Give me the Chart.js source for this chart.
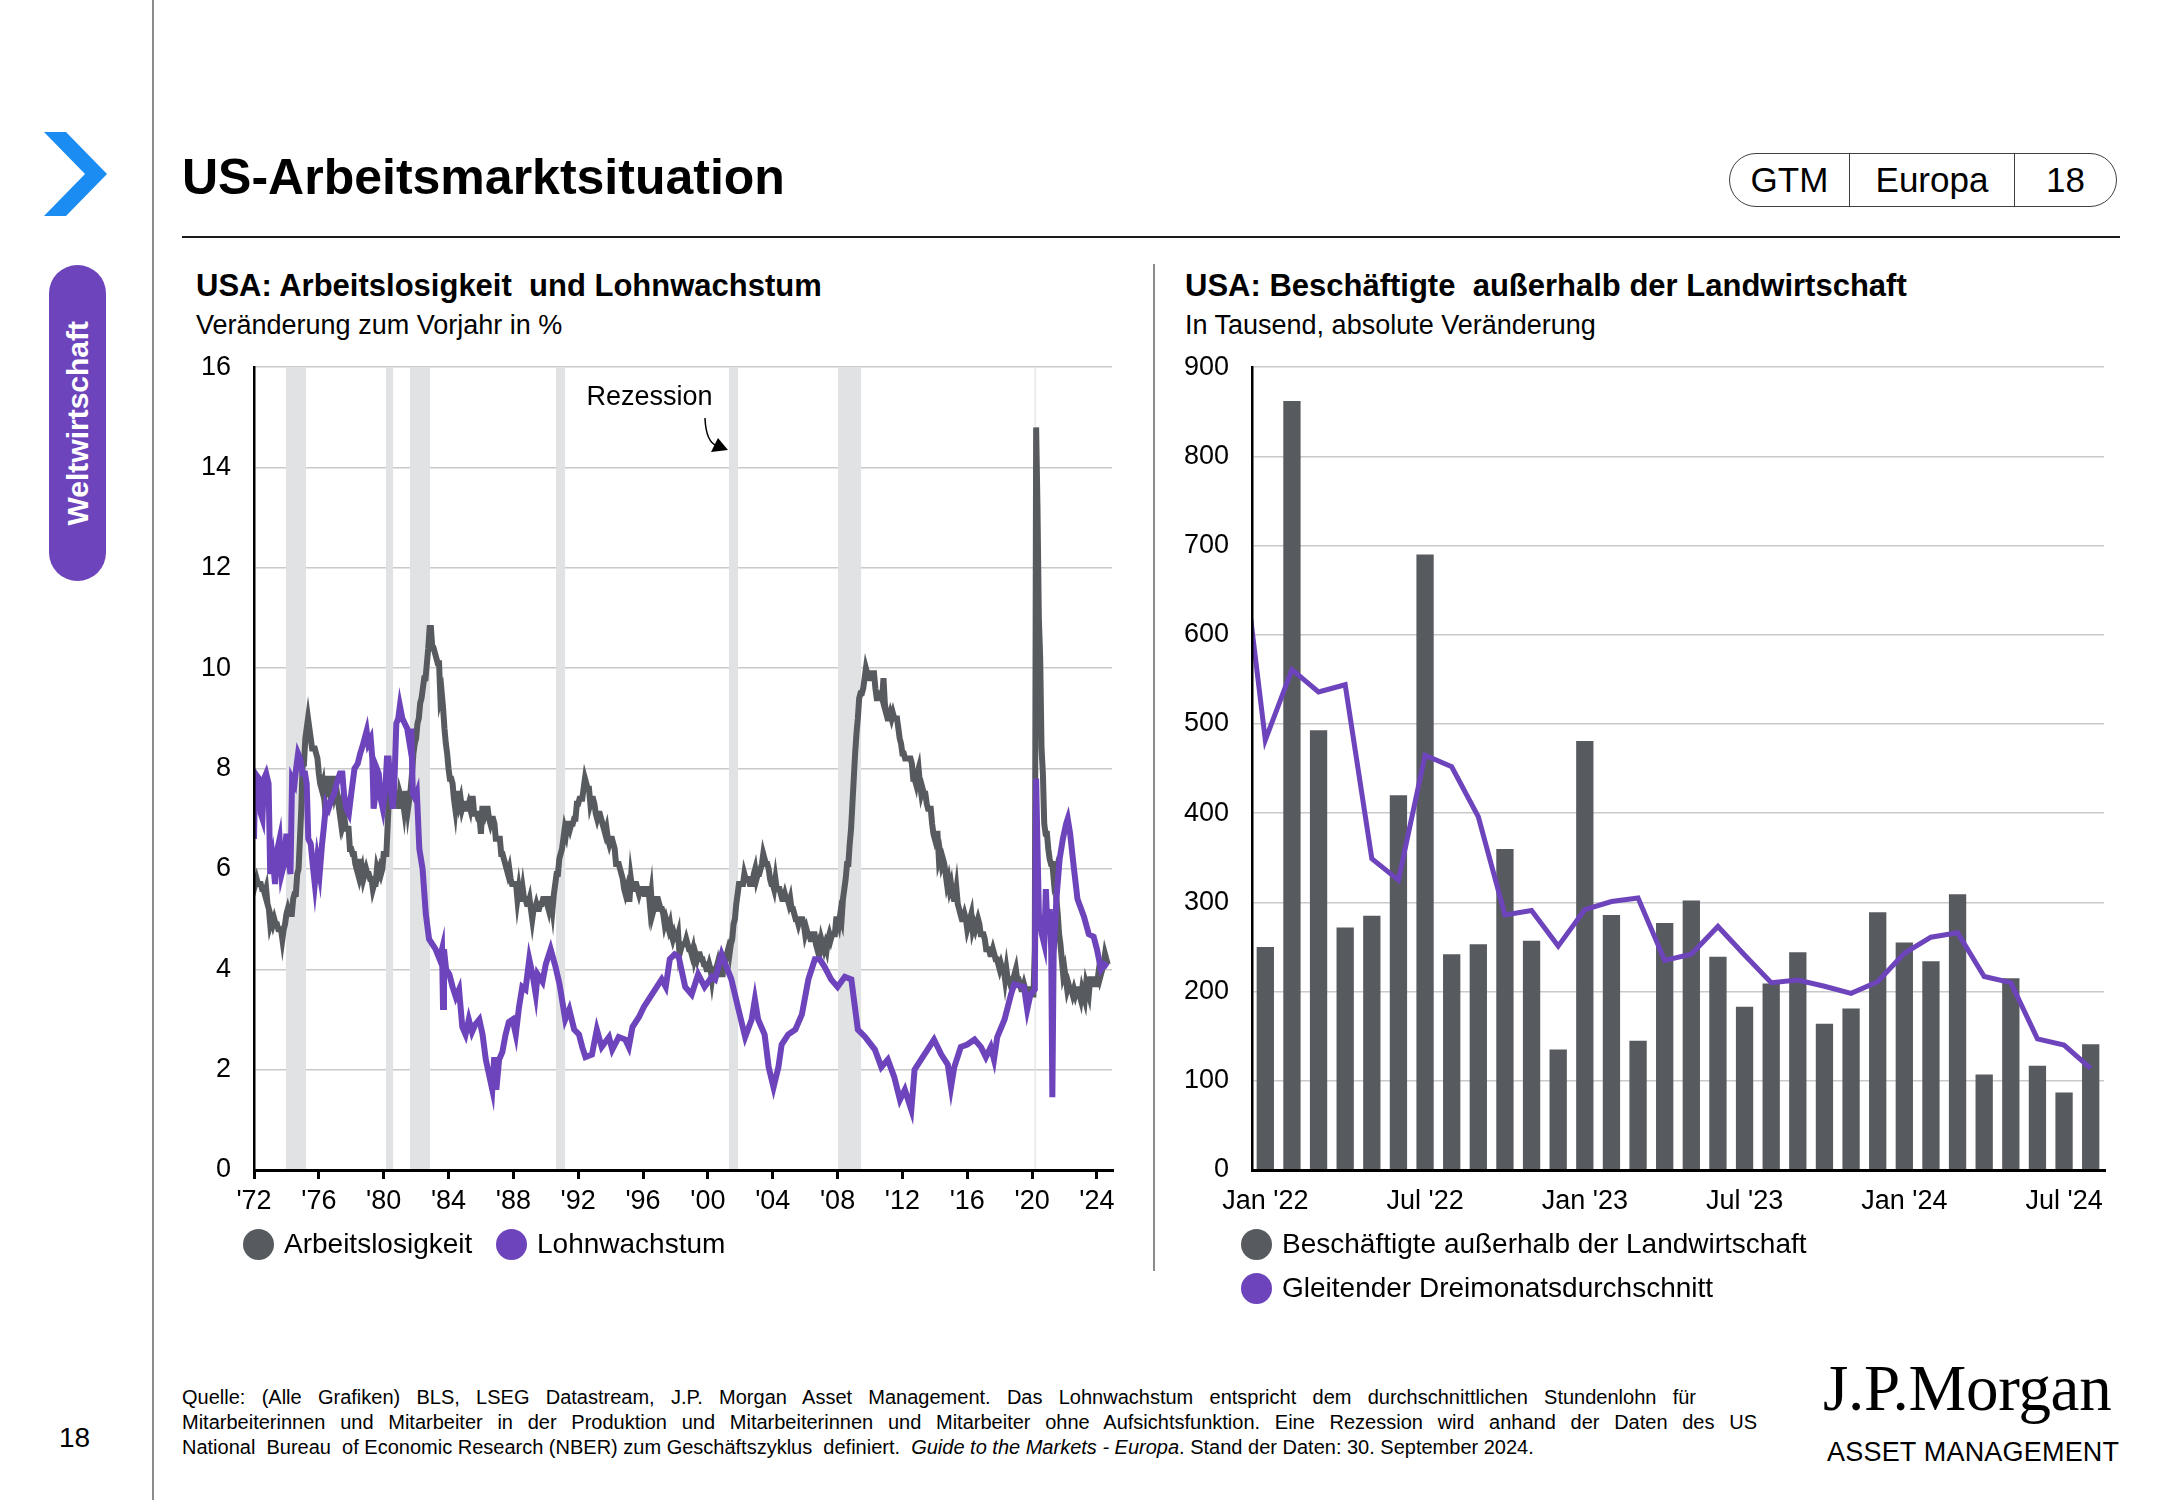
<!DOCTYPE html>
<html lang="de">
<head>
<meta charset="utf-8">
<title>US-Arbeitsmarktsituation</title>
<script src="https://cdn.jsdelivr.net/npm/chart.js@4.4.1/dist/chart.umd.min.js"></script>
<style>
  html, body { margin: 0; padding: 0; background: #fff; }
  body { width: 2167px; height: 1500px; position: relative; overflow: hidden;
         font-family: "Liberation Sans", Arial, sans-serif; color: #000; }
  .abs { position: absolute; }
  .title { left: 182px; top: 152px; font-size: 50px; font-weight: bold; line-height: 1; white-space: nowrap; }
  .badge { left: 1729px; top: 153px; width: 388px; height: 54px; border: 1.5px solid #404040;
           border-radius: 28px; box-sizing: border-box; display: flex; font-size: 35px; }
  .badge div { display: flex; align-items: center; justify-content: center; }
  .badge div + div { border-left: 1.5px solid #404040; }
  .rule { left: 182px; top: 236px; width: 1938px; height: 1.5px; background: #1a1a1a; }
  .ctitle { top: 270px; font-size: 31px; font-weight: bold; line-height: 1; white-space: pre; }
  .csub { top: 312px; font-size: 27px; line-height: 1; white-space: nowrap; }
  .legend-item { display: flex; align-items: center; font-size: 28px; line-height: 1; white-space: nowrap; height: 32px; }
  .legend-item span.dot { width: 31px; height: 31px; border-radius: 50%; margin-right: 10px; flex: none; }
  .foot { left: 182px; font-size: 20px; line-height: 25px; white-space: pre; }
  .just { text-align: justify; text-align-last: justify; white-space: normal; }
</style>
</head>
<body>

<!-- sidebar -->
<div class="abs" style="left:152px; top:0; width:1.5px; height:1500px; background:#8c8c8c;"></div>
<svg class="abs" style="left:0; top:0;" width="140" height="240">
  <polygon points="44,132 66,132 107,174 66,216 44,216 85,174" fill="#1a8cf2"/>
</svg>
<div class="abs" style="left:49px; top:265px; width:57px; height:316px; border-radius:29px; background:#6e44bc;
     display:flex; align-items:center; justify-content:center;">
  <span style="writing-mode:vertical-rl; transform:rotate(180deg); color:#fff; font-weight:bold; font-size:30px; line-height:1;">Weltwirtschaft</span>
</div>
<div class="abs" style="left:59px; top:1424px; font-size:28px; line-height:1;">18</div>

<!-- header -->
<div class="abs title">US-Arbeitsmarktsituation</div>
<div class="abs badge">
  <div style="width:119px;">GTM</div>
  <div style="width:164px;">Europa</div>
  <div style="flex:1;">18</div>
</div>
<div class="abs rule"></div>

<!-- chart titles -->
<div class="abs ctitle" style="left:196px;">USA: Arbeitslosigkeit  und Lohnwachstum</div>
<div class="abs csub" style="left:196px;">Veränderung zum Vorjahr in %</div>
<div class="abs ctitle" style="left:1185px;">USA: Beschäftigte  außerhalb der Landwirtschaft</div>
<div class="abs csub" style="left:1185px;">In Tausend, absolute Veränderung</div>

<div class="abs" style="left:1153px; top:264px; width:1.5px; height:1007px; background:#8c8c8c;"></div>

<canvas id="chartLeft" class="abs" style="left:170px; top:328px;" width="960" height="912"></canvas>
<canvas id="chartRight" class="abs" style="left:1160px; top:328px;" width="965" height="912"></canvas>

<!-- legends -->
<div class="abs legend-item" style="left:243px; top:1228px;"><span class="dot" style="background:#575a5e;"></span>Arbeitslosigkeit</div>
<div class="abs legend-item" style="left:496px; top:1228px;"><span class="dot" style="background:#6e44bc;"></span>Lohnwachstum</div>
<div class="abs legend-item" style="left:1241px; top:1228px;"><span class="dot" style="background:#575a5e;"></span>Beschäftigte außerhalb der Landwirtschaft</div>
<div class="abs legend-item" style="left:1241px; top:1272px;"><span class="dot" style="background:#6e44bc;"></span>Gleitender Dreimonatsdurchschnitt</div>

<!-- footer -->
<div class="abs foot just" style="top:1385px; width:1514px;">Quelle: (Alle Grafiken) BLS, LSEG Datastream, J.P. Morgan Asset Management. Das Lohnwachstum entspricht dem durchschnittlichen Stundenlohn für</div>
<div class="abs foot just" style="top:1410px; width:1575px;">Mitarbeiterinnen und Mitarbeiter in der Produktion und Mitarbeiterinnen und Mitarbeiter ohne Aufsichtsfunktion. Eine Rezession wird anhand der Daten des US</div>
<div class="abs foot" style="top:1435px;">National  Bureau  of Economic Research (NBER) zum Geschäftszyklus  definiert.  <i>Guide to the Markets - Europa</i>. Stand der Daten: 30. September 2024.</div>

<div class="abs" style="left:1823px; top:1356px; font-family:'Liberation Serif','Times New Roman',serif; font-size:65px; line-height:1; letter-spacing:-0.3px; white-space:nowrap;">J.P.Morgan</div>
<div class="abs" style="left:1827px; top:1439px; font-size:27px; line-height:1; white-space:nowrap; letter-spacing:0.2px;">ASSET MANAGEMENT</div>

<script>
// ---- left chart data ----
const unemploymentStart = 1972; // monthly series starting January 1972
const unemploymentRate = [
  5.9, 5.7, 5.8, 5.7, 5.7, 5.7, 5.6, 5.6, 5.5, 5.6, 5.3, 5.2,
  4.9, 5.0, 4.9, 5.0, 4.9, 4.9, 4.8, 4.8, 4.8, 4.6, 4.8, 4.9,
  5.1, 5.2, 5.1, 5.1, 5.1, 5.4, 5.5, 5.5, 5.9, 6.0, 6.6, 7.2,
  8.1, 8.1, 8.6, 8.8, 9.0, 8.8, 8.6, 8.4, 8.4, 8.4, 8.3, 8.2,
  7.9, 7.7, 7.6, 7.7, 7.4, 7.6, 7.8, 7.8, 7.6, 7.7, 7.8, 7.8,
  7.5, 7.6, 7.4, 7.2, 7.0, 7.2, 6.9, 7.0, 6.8, 6.8, 6.8, 6.4,
  6.4, 6.3, 6.3, 6.1, 6.0, 5.9, 6.2, 5.9, 6.0, 5.8, 5.9, 6.0,
  5.9, 5.9, 5.8, 5.8, 5.6, 5.7, 5.7, 6.0, 5.9, 6.0, 5.9, 6.0,
  6.3, 6.3, 6.3, 6.9, 7.5, 7.6, 7.8, 7.7, 7.5, 7.5, 7.5, 7.2,
  7.5, 7.4, 7.4, 7.2, 7.5, 7.5, 7.2, 7.4, 7.6, 7.9, 8.3, 8.5,
  8.6, 8.9, 9.0, 9.3, 9.4, 9.6, 9.8, 9.8, 10.1, 10.4, 10.8, 10.8,
  10.4, 10.4, 10.3, 10.2, 10.1, 10.1, 9.4, 9.5, 9.2, 8.8, 8.5, 8.3,
  8.0, 7.8, 7.8, 7.7, 7.4, 7.2, 7.5, 7.5, 7.3, 7.4, 7.2, 7.3,
  7.3, 7.2, 7.2, 7.3, 7.2, 7.4, 7.4, 7.1, 7.1, 7.1, 7.0, 7.0,
  6.7, 7.2, 7.2, 7.1, 7.2, 7.2, 7.0, 6.9, 7.0, 7.0, 6.9, 6.6,
  6.6, 6.6, 6.6, 6.3, 6.3, 6.2, 6.1, 6.0, 5.9, 6.0, 5.8, 5.7,
  5.7, 5.7, 5.7, 5.4, 5.6, 5.4, 5.4, 5.6, 5.4, 5.4, 5.3, 5.3,
  5.4, 5.2, 5.0, 5.2, 5.2, 5.3, 5.2, 5.2, 5.3, 5.3, 5.4, 5.4,
  5.4, 5.3, 5.2, 5.4, 5.4, 5.2, 5.5, 5.7, 5.9, 5.9, 6.2, 6.3,
  6.4, 6.6, 6.8, 6.7, 6.9, 6.9, 6.8, 6.9, 6.9, 7.0, 7.0, 7.3,
  7.3, 7.4, 7.4, 7.4, 7.6, 7.8, 7.7, 7.6, 7.6, 7.3, 7.4, 7.4,
  7.3, 7.1, 7.0, 7.1, 7.1, 7.0, 6.9, 6.8, 6.7, 6.8, 6.6, 6.5,
  6.6, 6.6, 6.5, 6.4, 6.1, 6.1, 6.1, 6.0, 5.9, 5.8, 5.6, 5.5,
  5.6, 5.4, 5.4, 5.8, 5.6, 5.6, 5.7, 5.7, 5.6, 5.5, 5.6, 5.6,
  5.6, 5.5, 5.5, 5.6, 5.6, 5.3, 5.5, 5.1, 5.2, 5.2, 5.4, 5.4,
  5.3, 5.2, 5.2, 5.1, 4.9, 5.0, 4.9, 4.8, 4.9, 4.7, 4.6, 4.7,
  4.6, 4.6, 4.7, 4.3, 4.4, 4.5, 4.5, 4.5, 4.6, 4.5, 4.4, 4.4,
  4.3, 4.4, 4.2, 4.3, 4.2, 4.3, 4.3, 4.2, 4.2, 4.1, 4.1, 4.0,
  4.0, 4.1, 4.0, 3.8, 4.0, 4.0, 4.0, 4.1, 3.9, 3.9, 3.9, 3.9,
  4.2, 4.2, 4.3, 4.4, 4.3, 4.5, 4.6, 4.9, 5.0, 5.3, 5.5, 5.7,
  5.7, 5.7, 5.7, 5.9, 5.8, 5.8, 5.8, 5.7, 5.7, 5.7, 5.9, 6.0,
  5.8, 5.9, 5.9, 6.0, 6.1, 6.3, 6.2, 6.1, 6.1, 6.0, 5.8, 5.7,
  5.7, 5.6, 5.8, 5.6, 5.6, 5.6, 5.5, 5.4, 5.4, 5.5, 5.4, 5.4,
  5.3, 5.4, 5.2, 5.2, 5.1, 5.0, 5.0, 4.9, 5.0, 5.0, 5.0, 4.9,
  4.7, 4.8, 4.7, 4.7, 4.6, 4.6, 4.7, 4.7, 4.5, 4.4, 4.5, 4.4,
  4.6, 4.5, 4.4, 4.5, 4.4, 4.6, 4.7, 4.6, 4.7, 4.7, 4.7, 5.0,
  5.0, 4.9, 5.1, 5.0, 5.4, 5.6, 5.8, 6.1, 6.1, 6.5, 6.8, 7.3,
  7.8, 8.3, 8.7, 9.0, 9.4, 9.5, 9.5, 9.6, 9.8, 10.0, 9.9, 9.9,
  9.8, 9.8, 9.9, 9.9, 9.6, 9.4, 9.4, 9.5, 9.5, 9.4, 9.8, 9.3,
  9.1, 9.0, 9.0, 9.1, 9.0, 9.1, 9.0, 9.0, 9.0, 8.8, 8.6, 8.5,
  8.3, 8.3, 8.2, 8.2, 8.2, 8.2, 8.2, 8.1, 7.8, 7.8, 7.7, 7.9,
  8.0, 7.7, 7.5, 7.6, 7.5, 7.5, 7.3, 7.2, 7.2, 7.2, 6.9, 6.7,
  6.6, 6.7, 6.7, 6.2, 6.3, 6.1, 6.2, 6.1, 5.9, 5.7, 5.8, 5.6,
  5.7, 5.5, 5.4, 5.4, 5.6, 5.3, 5.2, 5.1, 5.0, 5.0, 5.1, 5.0,
  4.8, 4.9, 5.0, 5.1, 4.8, 4.9, 4.8, 4.9, 5.0, 4.9, 4.7, 4.7,
  4.7, 4.6, 4.4, 4.4, 4.4, 4.3, 4.3, 4.4, 4.3, 4.2, 4.2, 4.1,
  4.0, 4.1, 4.0, 4.0, 3.8, 4.0, 3.8, 3.8, 3.7, 3.8, 3.8, 3.9,
  4.0, 3.8, 3.8, 3.7, 3.6, 3.6, 3.7, 3.6, 3.5, 3.6, 3.6, 3.6,
  3.5, 3.5, 4.4, 14.8, 13.2, 11.0, 10.2, 8.4, 7.9, 6.9, 6.7, 6.7,
  6.4, 6.2, 6.1, 6.1, 5.8, 5.9, 5.4, 5.1, 4.7, 4.5, 4.2, 3.9,
  4.0, 3.8, 3.6, 3.7, 3.6, 3.6, 3.5, 3.6, 3.5, 3.6, 3.6, 3.5,
  3.4, 3.6, 3.5, 3.4, 3.7, 3.6, 3.5, 3.8, 3.8, 3.8, 3.7, 3.7,
  3.7, 3.9, 3.8, 3.9, 4.0, 4.1, 4.3, 4.2, 4.1
];

// wage growth as [year, % y/y]
const wageGrowth = [
  [1972.00, 6.6], [1972.08, 7.9], [1972.30, 7.8], [1972.42, 7.1], [1972.52, 7.0], [1972.62, 7.8],
  [1972.75, 7.9], [1972.90, 7.7], [1973.00, 5.9], [1973.15, 6.2], [1973.30, 5.7], [1973.45, 6.4],
  [1973.58, 6.6], [1973.70, 5.9], [1973.85, 6.1], [1974.00, 6.7], [1974.12, 6.2], [1974.25, 5.9],
  [1974.35, 7.8], [1974.50, 7.7], [1974.60, 8.0], [1974.72, 8.3], [1974.85, 8.2], [1975.00, 7.9],
  [1975.15, 7.9], [1975.25, 7.7], [1975.35, 6.6], [1975.50, 6.5], [1975.65, 6.0], [1975.75, 5.7],
  [1975.90, 6.2], [1976.05, 5.9], [1976.20, 6.5], [1976.30, 6.8], [1976.45, 7.3], [1976.60, 7.2],
  [1976.80, 7.4], [1976.95, 7.5], [1977.10, 7.7], [1977.30, 7.9], [1977.45, 7.9], [1977.55, 7.5],
  [1977.70, 7.2], [1977.85, 7.1], [1978.00, 7.5], [1978.20, 8.0], [1978.40, 8.1], [1978.55, 8.3],
  [1978.70, 8.45], [1978.95, 8.75], [1979.05, 8.5], [1979.20, 8.6], [1979.30, 8.2], [1979.38, 7.2],
  [1979.50, 7.5], [1979.58, 8.0], [1979.70, 7.9], [1979.82, 7.4], [1979.95, 7.2], [1980.10, 7.6],
  [1980.20, 8.2], [1980.30, 8.2], [1980.42, 7.7], [1980.55, 7.2], [1980.65, 7.6], [1980.78, 8.9],
  [1980.90, 9.0], [1981.00, 9.25], [1981.15, 9.0], [1981.30, 8.9], [1981.45, 8.8], [1981.60, 8.5],
  [1981.70, 8.8], [1981.80, 7.5], [1981.95, 7.4], [1982.05, 7.5], [1982.20, 6.4], [1982.40, 6.0],
  [1982.60, 5.1], [1982.80, 4.6], [1983.00, 4.5], [1983.20, 4.4], [1983.45, 4.2], [1983.60, 4.4],
  [1983.66, 3.25], [1983.72, 4.4], [1983.85, 4.0], [1984.05, 3.9], [1984.25, 3.65], [1984.45, 3.45],
  [1984.65, 3.6], [1984.85, 2.85], [1985.05, 2.7], [1985.25, 3.0], [1985.45, 2.75], [1985.65, 2.9],
  [1985.90, 3.0], [1986.10, 2.7], [1986.30, 2.2], [1986.50, 1.9], [1986.70, 1.6], [1986.82, 2.25],
  [1986.95, 1.6], [1987.12, 2.2], [1987.32, 2.35], [1987.52, 2.7], [1987.72, 2.95], [1987.95, 3.0],
  [1988.15, 2.7], [1988.35, 3.25], [1988.55, 3.65], [1988.75, 3.6], [1988.98, 4.2], [1989.18, 3.9],
  [1989.38, 3.5], [1989.50, 3.9], [1989.80, 3.75], [1990.00, 4.1], [1990.30, 4.4], [1990.60, 4.05],
  [1990.85, 3.7], [1991.20, 3.0], [1991.45, 3.2], [1991.75, 2.8], [1992.05, 2.7], [1992.25, 2.45],
  [1992.45, 2.25], [1992.85, 2.3], [1993.15, 2.8], [1993.45, 2.45], [1993.90, 2.65], [1994.10, 2.4],
  [1994.50, 2.65], [1994.90, 2.6], [1995.12, 2.45], [1995.35, 2.85], [1995.75, 3.05], [1996.05, 3.25],
  [1996.35, 3.4], [1996.75, 3.6], [1997.15, 3.8], [1997.40, 3.65], [1997.65, 4.2], [1997.95, 4.3],
  [1998.20, 4.25], [1998.60, 3.65], [1999.00, 3.5], [1999.40, 3.9], [1999.80, 3.65], [2000.25, 3.85],
  [2000.45, 3.8], [2000.85, 4.3], [2001.15, 4.05], [2001.45, 3.8], [2001.85, 3.25], [2002.30, 2.65],
  [2002.70, 3.0], [2002.90, 3.4], [2003.10, 3.0], [2003.50, 2.7], [2003.75, 2.05], [2004.05, 1.65],
  [2004.35, 2.05], [2004.55, 2.5], [2004.95, 2.7], [2005.40, 2.8], [2005.80, 3.1], [2006.20, 3.8],
  [2006.60, 4.2], [2006.90, 4.2], [2007.20, 4.05], [2007.60, 3.8], [2008.00, 3.65], [2008.45, 3.85],
  [2008.85, 3.8], [2009.25, 2.8], [2009.70, 2.65], [2010.30, 2.4], [2010.70, 2.05], [2011.10, 2.2],
  [2011.50, 1.85], [2011.85, 1.4], [2012.15, 1.6], [2012.55, 1.2], [2012.75, 2.0], [2013.15, 2.2],
  [2013.55, 2.4], [2013.95, 2.6], [2014.40, 2.3], [2014.80, 2.1], [2015.00, 1.65], [2015.20, 2.05],
  [2015.60, 2.45], [2016.00, 2.5], [2016.45, 2.6], [2016.85, 2.45], [2017.15, 2.25], [2017.45, 2.45],
  [2017.65, 2.2], [2017.85, 2.65], [2018.30, 3.0], [2018.70, 3.5], [2018.90, 3.7], [2019.50, 3.65],
  [2019.70, 3.2], [2019.90, 3.5], [2020.17, 3.6], [2020.25, 7.8], [2020.33, 6.5], [2020.42, 5.1],
  [2020.60, 4.7], [2020.75, 4.5], [2020.85, 5.6], [2020.95, 4.8], [2021.08, 5.2], [2021.18, 4.4],
  [2021.25, 1.45], [2021.33, 4.3], [2021.50, 5.4], [2021.70, 6.2], [2021.90, 6.6], [2022.10, 6.9],
  [2022.20, 7.0], [2022.35, 6.7], [2022.55, 6.1], [2022.80, 5.4], [2023.20, 5.05], [2023.50, 4.7],
  [2023.80, 4.65], [2024.00, 4.4], [2024.25, 4.0], [2024.45, 4.1], [2024.67, 4.05]
];

const yearTicks = [1972, 1976, 1980, 1984, 1988, 1992, 1996, 2000, 2004, 2008, 2012, 2016, 2020, 2024];
const recessionStart = [1973.97, 1980.14, 1981.62, 1990.63, 2001.30, 2008.03, 2020.15];
const recessionEnd   = [1975.21, 1980.58, 1982.86, 1991.19, 2001.86, 2009.45, 2020.22];
const noteLabel = { x: 1996.4, y: 15.4, text: 'Rezession' };
const noteArrowTip = { x: 2001.24, y: 14.35 };

// ---- right chart data ----
const monthLabels = [
  "Jan '22", "Feb '22", "Mar '22", "Apr '22", "May '22", "Jun '22", "Jul '22", "Aug '22", "Sep '22", "Oct '22", "Nov '22", "Dec '22",
  "Jan '23", "Feb '23", "Mar '23", "Apr '23", "May '23", "Jun '23", "Jul '23", "Aug '23", "Sep '23", "Oct '23", "Nov '23", "Dec '23",
  "Jan '24", "Feb '24", "Mar '24", "Apr '24", "May '24", "Jun '24", "Jul '24", "Aug '24"
];
const payrolls = [250, 862, 493, 272, 285, 420, 690, 242, 253, 360, 257, 135,
                  481, 286, 145, 277, 302, 239, 183, 209, 244, 164, 181, 289,
                  255, 234, 309, 107, 215, 117, 87, 141];
// 3-month average, first value is Dec '21 (left of the axis, clipped)
const payrollAvg = [730, 482, 561, 536, 544, 349, 325, 465, 452, 396, 286, 291, 251,
                    292, 301, 305, 235, 242, 273, 241, 210, 213, 206, 198, 211,
                    243, 261, 266, 217, 210, 147, 140, 114];

const GRAY = '#575a5e';
const PURPLE = '#6e44bc';
const RECESSION = '#e1e2e4';
const GRID = '#c9c9c9';

Chart.defaults.font.family = '"Liberation Sans", Arial, sans-serif';
Chart.defaults.color = '#000';

const recessionBands = {
  id: 'recessionBands',
  beforeDatasetsDraw(chart) {
    const { ctx, chartArea, scales: { x } } = chart;
    ctx.save();
    ctx.fillStyle = RECESSION;
    recessionStart.forEach((s, i) => {
      const x0 = x.getPixelForValue(s);
      const x1 = x.getPixelForValue(recessionEnd[i]);
      ctx.fillRect(x0, chartArea.top, Math.max(x1 - x0, 1.2), chartArea.bottom - chartArea.top);
    });
    ctx.restore();
  }
};

const recessionNote = {
  id: 'recessionNote',
  afterDatasetsDraw(chart) {
    const { ctx, scales: { x, y } } = chart;
    ctx.save();
    ctx.font = '27px "Liberation Sans", Arial, sans-serif';
    ctx.fillStyle = '#000';
    ctx.textAlign = 'center';
    ctx.textBaseline = 'middle';
    ctx.fillText(noteLabel.text, x.getPixelForValue(noteLabel.x), y.getPixelForValue(noteLabel.y));

    const tx = x.getPixelForValue(noteArrowTip.x);
    const ty = y.getPixelForValue(noteArrowTip.y);
    ctx.strokeStyle = '#000';
    ctx.lineWidth = 1.5;
    ctx.beginPath();
    ctx.moveTo(tx - 23, ty - 32);
    ctx.quadraticCurveTo(tx - 22, ty - 8, tx - 11, ty - 4);
    ctx.stroke();
    ctx.beginPath();
    ctx.moveTo(tx, ty);
    ctx.lineTo(tx - 17, ty + 2);
    ctx.lineTo(tx - 10, ty - 12);
    ctx.closePath();
    ctx.fill();
    ctx.restore();
  }
};

new Chart(document.getElementById('chartLeft'), {
  type: 'line',
  data: {
    datasets: [
      {
        label: 'Arbeitslosigkeit',
        data: unemploymentRate.map((v, i) => ({ x: unemploymentStart + i / 12, y: v })),
        borderColor: GRAY,
        borderWidth: 6,
        pointRadius: 0,
        tension: 0,
        order: 1
      },
      {
        label: 'Lohnwachstum',
        data: wageGrowth.map(([x, y]) => ({ x, y })),
        borderColor: PURPLE,
        borderWidth: 6,
        pointRadius: 0,
        tension: 0,
        order: 0
      }
    ]
  },
  options: {
    responsive: false,
    animation: false,
    // top space comes from the y tick label + padding (about 39px)
    layout: { padding: { top: 0, right: 18, left: 0, bottom: 0 } },
    plugins: { legend: { display: false }, tooltip: { enabled: false } },
    scales: {
      x: {
        type: 'linear',
        bounds: 'data',
        min: 1972,
        max: 2024.93,
        afterBuildTicks: s => { s.ticks = yearTicks.map(v => ({ value: v })); },
        afterFit: s => { s.height = 70; },
        ticks: {
          autoSkip: false,
          maxRotation: 0,
          padding: 6,
          font: { size: 27 },
          callback: v => "'" + String(v).slice(2)
        },
        grid: { drawOnChartArea: false, drawTicks: true, tickLength: 9, color: '#000', lineWidth: 3 },
        border: { color: '#000', width: 3, z: 1 }
      },
      y: {
        min: 0,
        max: 16,
        afterFit: s => { s.width = 84; },
        ticks: { stepSize: 2, padding: 23, font: { size: 27 } },
        grid: { color: GRID, lineWidth: 1.5, drawTicks: false },
        border: { color: '#000', width: 2.5, z: 1 }
      }
    }
  },
  plugins: [recessionBands, recessionNote]
});

const showMonth = i => monthLabels[i].startsWith('Jan') || monthLabels[i].startsWith('Jul');

new Chart(document.getElementById('chartRight'), {
  type: 'bar',
  data: {
    labels: monthLabels,
    datasets: [
      {
        type: 'line',
        label: 'Gleitender Dreimonatsdurchschnitt',
        data: payrollAvg.map((v, i) => ({ x: i - 1, y: v })),
        xAxisID: 'xLine',
        borderColor: PURPLE,
        borderWidth: 5,
        pointRadius: 0,
        tension: 0,
        clip: { left: 0, top: false, right: 0, bottom: 0 },
        order: 0
      },
      {
        type: 'bar',
        label: 'Beschäftigte außerhalb der Landwirtschaft',
        data: payrolls,
        backgroundColor: GRAY,
        grouped: false,
        barPercentage: 0.65,
        categoryPercentage: 1,
        order: 1
      }
    ]
  },
  options: {
    responsive: false,
    animation: false,
    layout: { padding: { top: 0, right: 21, left: 0, bottom: 0 } },
    plugins: { legend: { display: false }, tooltip: { enabled: false } },
    scales: {
      x: {
        type: 'category',
        offset: true,
        afterFit: s => { s.height = 70; },
        ticks: {
          autoSkip: false,
          maxRotation: 0,
          padding: 6,
          font: { size: 27 },
          callback: (v, i) => showMonth(i) ? monthLabels[i] : null
        },
        grid: {
          offset: true,
          drawOnChartArea: false,
          drawTicks: true,
          tickLength: 9,
          lineWidth: 3,
          color: c => (c.tick && showMonth(c.index)) ? '#000' : 'rgba(0,0,0,0)'
        },
        border: { color: '#000', width: 3, z: 1 }
      },
      xLine: {
        type: 'linear',
        display: false,
        offset: false,
        bounds: 'data',
        grid: { offset: false },
        min: -0.5,
        max: monthLabels.length - 0.5
      },
      y: {
        min: 0,
        max: 900,
        afterFit: s => { s.width = 92; },
        ticks: { stepSize: 100, padding: 23, font: { size: 27 } },
        grid: { color: GRID, lineWidth: 1.5, drawTicks: false },
        border: { color: '#000', width: 2.5, z: 1 }
      }
    }
  }
});
</script>
</body>
</html>
